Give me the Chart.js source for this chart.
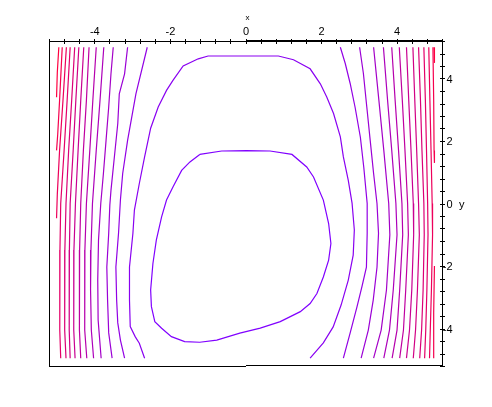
<!DOCTYPE html>
<html><head><meta charset="utf-8">
<script src="https://cdn.jsdelivr.net/npm/chart.js@4/dist/chart.umd.min.js"></script>
<style>html,body{margin:0;padding:0;background:#fff;}canvas{display:block;}</style>
</head><body>
<canvas id="c" width="492" height="407"></canvas>
<script>
// Tick labels
const xTickLabels = [-4, -2, 0, 2, 4];
const yTickLabels = [4, 2, 0, -2, -4];
const axisRange = [-5.2, 5.2];
const minorStep = 0.4;

// Contour curves (x, y), inner level first
const c1 = [[-1.21,1.57],[-0.63,1.68],[0.03,1.69],[0.65,1.68],[1.23,1.57],[1.62,1.17],[1.80,0.85],[2.06,0.11],[2.20,-0.64],[2.26,-1.28],[2.20,-1.81],[2.06,-2.35],[1.89,-2.88],[1.71,-3.20],[1.45,-3.46],[0.92,-3.78],[0.39,-3.99],[-0.15,-4.15],[-0.76,-4.37],[-1.21,-4.44],[-1.61,-4.42],[-1.96,-4.26],[-2.22,-3.99],[-2.40,-3.78],[-2.49,-3.30],[-2.51,-2.77],[-2.45,-1.92],[-2.36,-1.17],[-2.22,-0.43],[-2.09,0.11],[-1.92,0.53],[-1.69,1.06],[-1.47,1.33],[-1.21,1.57]];
const c2 = [[-2.67,-4.95],[-2.81,-4.47],[-2.92,-4.26],[-3.05,-3.94],[-3.07,-3.09],[-3.07,-2.03],[-2.98,-0.96],[-2.94,-0.21],[-2.81,0.64],[-2.67,1.49],[-2.51,2.41],[-2.31,3.09],[-2.09,3.62],[-1.92,3.94],[-1.65,4.40],[-1.25,4.63],[-0.99,4.72],[0.87,4.72],[1.27,4.60],[1.71,4.31],[1.98,3.83],[2.15,3.41],[2.33,2.88],[2.51,2.13],[2.59,1.49],[2.72,0.74],[2.82,0.01],[2.88,-0.85],[2.85,-1.65],[2.72,-2.45],[2.53,-3.25],[2.32,-3.95],[2.06,-4.46],[1.71,-4.95]];
const L3 = [[-2.60,5.0],[-2.90,3.51],[-3.12,2.02],[-3.25,0.96],[-3.31,0.11],[-3.36,-0.95],[-3.43,-2.03],[-3.41,-3.09],[-3.38,-3.82],[-3.31,-4.37],[-3.20,-4.95]];
const L4 = [[-3.12,5.0],[-3.20,4.15],[-3.34,3.51],[-3.38,2.56],[-3.47,1.49],[-3.56,0.42],[-3.59,-0.05],[-3.62,-0.95],[-3.67,-2.03],[-3.65,-3.09],[-3.62,-4.14],[-3.53,-4.95]];
const L5 = [[-3.50,5.0],[-3.56,4.15],[-3.62,3.09],[-3.69,2.02],[-3.76,0.96],[-3.83,0.0],[-3.89,-1.17],[-3.91,-2.45],[-3.90,-3.73],[-3.82,-4.95]];
const L6 = [[-3.75,5.0],[-3.85,3.30],[-3.95,1.70],[-4.05,0.0],[-4.09,-1.49],[-4.10,-2.77],[-4.08,-4.05],[-4.02,-4.95]];
const L7 = [[-3.95,5.0],[-4.04,3.30],[-4.12,1.70],[-4.21,0.0],[-4.25,-1.49],[-4.26,-2.77],[-4.25,-4.05],[-4.20,-4.95]];
const L8 = [[-4.14,5.0],[-4.21,3.30],[-4.29,1.70],[-4.36,0.0],[-4.39,-1.49],[-4.40,-2.77],[-4.39,-4.05],[-4.36,-4.95]];
const L9 = [[-4.28,5.0],[-4.36,3.30],[-4.43,1.70],[-4.50,0.0],[-4.54,-1.49],[-4.55,-2.77],[-4.54,-4.05],[-4.51,-4.95]];
const L10 = [[-4.41,5.0],[-4.49,3.30],[-4.56,1.70],[-4.64,0.0],[-4.66,-1.49],[-4.67,-2.77],[-4.66,-4.05],[-4.64,-4.95]];
const L11 = [[-4.52,5.0],[-4.60,3.30],[-4.68,1.70],[-4.75,0.0],[-4.78,-1.49],[-4.79,-2.77],[-4.78,-4.05],[-4.75,-4.95]];
const L12 = [[-4.64,5.0],[-4.72,3.30],[-4.80,1.70],[-4.89,0.0],[-4.91,-1.49],[-4.92,-2.77],[-4.91,-4.05],[-4.89,-4.95]];
const L13 = [[-4.74,5.0],[-4.83,3.30],[-4.92,1.70],[-4.98,0.3],[-5.0,-0.47]];
const L14 = [[-4.85,5.0],[-4.92,3.30],[-4.97,2.2],[-5.0,1.70]];
const L15 = [[-4.94,5.0],[-4.98,4.2],[-5.0,3.4]];
const R3 = [[2.51,5.0],[2.64,4.48],[2.77,3.84],[2.90,3.08],[3.04,2.12],[3.13,1.16],[3.22,0.0],[3.22,-0.95],[3.20,-2.04],[3.08,-2.67],[2.95,-3.31],[2.77,-4.14],[2.59,-4.95]];
const R4 = [[3.02,5.0],[3.12,4.16],[3.21,3.09],[3.30,2.02],[3.39,0.96],[3.48,0.0],[3.52,-0.95],[3.48,-2.04],[3.38,-3.09],[3.25,-4.05],[3.06,-4.95]];
const R5 = [[3.39,5.0],[3.53,3.30],[3.66,1.70],[3.79,0.0],[3.82,-1.0],[3.73,-2.77],[3.59,-4.05],[3.39,-4.95]];
const R6 = [[3.65,5.0],[3.76,3.30],[3.87,1.70],[3.98,0.0],[4.01,-1.0],[3.91,-2.77],[3.81,-4.05],[3.66,-4.95]];
const R7 = [[3.87,5.0],[3.96,3.30],[4.05,1.70],[4.14,0.0],[4.16,-1.0],[4.08,-2.77],[4.01,-4.05],[3.88,-4.95]];
const R8 = [[4.07,5.0],[4.15,3.30],[4.22,1.70],[4.29,0.0],[4.31,-1.0],[4.24,-2.77],[4.18,-4.05],[4.08,-4.95]];
const R9 = [[4.26,5.0],[4.32,3.30],[4.38,1.70],[4.44,0.0],[4.45,-1.0],[4.40,-2.77],[4.34,-4.05],[4.26,-4.95]];
const R10 = [[4.43,5.0],[4.48,3.30],[4.53,1.70],[4.58,0.0],[4.60,-1.0],[4.55,-2.77],[4.50,-4.05],[4.44,-4.95]];
const R11 = [[4.58,5.0],[4.63,3.30],[4.67,1.70],[4.72,0.0],[4.73,-1.0],[4.70,-2.77],[4.66,-4.05],[4.61,-4.95]];
const R12 = [[4.72,5.0],[4.76,3.30],[4.79,1.70],[4.82,0.0],[4.83,-1.0],[4.80,-2.77],[4.77,-4.05],[4.74,-4.95]];
const R13 = [[4.85,5.0],[4.88,3.30],[4.91,1.70],[4.94,0.0],[4.95,-1.0],[4.92,-2.77],[4.89,-4.05],[4.87,-4.95]];
const R14a = [[4.96,5.0],[4.98,3.3],[4.99,1.7],[5.0,1.3]];
const R14b = [[5.0,-2.0],[4.98,-3.5],[4.98,-4.95]];
const R15 = [[4.99,5.0],[5.0,4.5]];

const curves = [
  [1, c1], [2, c2],
  [3, L3], [3, R3], [4, L4], [4, R4], [5, L5], [5, R5], [6, L6], [6, R6],
  [7, L7], [7, R7], [8, L8], [8, R8], [9, L9], [9, R9], [10, L10], [10, R10],
  [11, L11], [11, R11], [12, L12], [12, R12], [13, L13], [13, R13],
  [14, L14], [14, R14a], [14, R14b], [15, L15], [15, R15]
];

function levelColor(k) {
  const t = (k - 1) / 14;
  const r = Math.round(128 + 127 * t), b = Math.round(255 - 191 * t);
  return 'rgb(' + r + ',0,' + b + ')';
}

const datasets = curves.map(([lvl, pts]) => ({
  data: pts.map(p => ({x: p[0], y: p[1]})),
  showLine: true, borderColor: levelColor(lvl), borderWidth: 1.2,
  pointRadius: 0, tension: 0, fill: false
}));

const axesPlugin = {
  id: 'mapleAxes',
  afterDraw(chart) {
    const ctx = chart.ctx, sx = chart.scales.x, sy = chart.scales.y;
    const L = Math.round(sx.getPixelForValue(axisRange[0]));
    const R = Math.round(sx.getPixelForValue(axisRange[1]));
    const T = Math.round(sy.getPixelForValue(axisRange[1]));
    const B = Math.round(sy.getPixelForValue(axisRange[0]));
    const X0 = Math.round(sx.getPixelForValue(0));
    ctx.save();
    ctx.fillStyle = '#000';
    // frame
    ctx.fillRect(L, T, X0 - L, 1);
    ctx.fillRect(X0, T - 1, R - X0 + 1, 2);
    ctx.fillRect(L, T, 1, B - T + 1);
    ctx.fillRect(L, B, X0 - L, 1);
    ctx.fillRect(X0, B - 1, R - X0 + 1, 1);
    ctx.fillRect(R, T - 1, 1, B - T + 1);
    // ticks
    const n = Math.round((axisRange[1] - axisRange[0]) / minorStep);
    for (let i = 0; i <= n; i++) {
      const v = axisRange[0] + i * minorStep;
      const px = Math.round(sx.getPixelForValue(v));
      ctx.fillRect(px, T - 2, 1, 5);
      const py = Math.round(sy.getPixelForValue(v));
      ctx.fillRect(R - 2, py, 5, 1);
    }
    // labels
    ctx.font = '11px "Liberation Sans", Arial, sans-serif';
    ctx.textBaseline = 'alphabetic';
    ctx.textAlign = 'center';
    xTickLabels.forEach(v => {
      ctx.fillText(String(v), sx.getPixelForValue(v) + 0.5, 35);
    });
    ctx.textAlign = 'right';
    yTickLabels.forEach(v => {
      const py = Math.round(sy.getPixelForValue(v));
      ctx.fillText(String(v), R + 10.5, py + 4);
    });
    ctx.textAlign = 'left';
    ctx.fillText('y', R + 17, Math.round(sy.getPixelForValue(0)) + 4);
    ctx.font = '8px "Liberation Sans", Arial, sans-serif';
    ctx.textAlign = 'center';
    ctx.fillText('x', X0 + 1.5, 19.5);
    ctx.restore();
  }
};

new Chart(document.getElementById('c'), {
  type: 'scatter',
  data: { datasets },
  options: {
    responsive: false, animation: false, devicePixelRatio: 1,
    layout: { padding: { left: 49, right: 50, top: 41, bottom: 41 } },
    plugins: { legend: { display: false }, tooltip: { enabled: false } },
    scales: {
      x: { type: 'linear', min: axisRange[0], max: axisRange[1], display: false },
      y: { type: 'linear', min: axisRange[0], max: axisRange[1], display: false }
    }
  },
  plugins: [axesPlugin]
});
</script>
</body></html>
